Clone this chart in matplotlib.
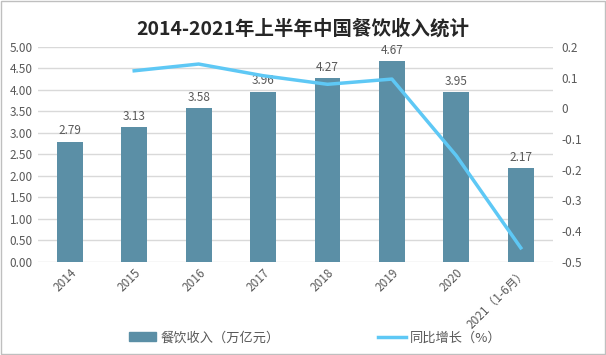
import numpy as np
import matplotlib
matplotlib.use("Agg")
import matplotlib.pyplot as plt
from matplotlib.patches import Patch
from matplotlib.lines import Line2D

plt.rcParams['font.family'] = ['Noto Sans CJK SC', 'DejaVu Sans']

years = ["2014", "2015", "2016", "2017", "2018", "2019", "2020", "2021（1-6月）"]
revenue = [2.79, 3.13, 3.58, 3.96, 4.27, 4.67, 3.95, 2.17]
growth = [np.nan, 0.122, 0.144, 0.106, 0.078, 0.095, -0.155, -0.455]
left_ticks = [0, 0.5, 1, 1.5, 2, 2.5, 3, 3.5, 4, 4.5, 5]
right_ticks = [-0.5, -0.4, -0.3, -0.2, -0.1, 0, 0.1, 0.2]
right_labels = ["-0.5", "-0.4", "-0.3", "-0.2", "-0.1", "0", "0.1", "0.2"]

bar_c = "#5b8fa6"
line_c = "#5ec8f5"
txt_c = "#595959"

fig = plt.figure(figsize=(6.06, 3.55), dpi=100)
ax = fig.add_axes([0.062, 0.263, 0.8505, 0.605])
x = np.arange(len(years))
ax.bar(x, revenue, width=0.4, color=bar_c, zorder=2)
for xi, v in zip(x, revenue):
    ax.text(xi, v + 0.1, f"{v:.2f}", ha="center", va="bottom", fontsize=8.5, color=txt_c)

ax.set_xlim(-0.5, len(years) - 0.5)
ax.set_ylim(0, 5)
ax.set_yticks(left_ticks)
ax.set_yticklabels([f"{t:.2f}" for t in left_ticks])
ax.grid(axis="y", color="#d9d9d9", linewidth=1, zorder=0)
ax.set_axisbelow(True)
for s in ax.spines.values():
    s.set_visible(False)
ax.tick_params(axis="both", length=0, labelsize=8.5, colors=txt_c)
ax.set_xticks(x)
ax.set_xticklabels(years, rotation=45, ha="right", rotation_mode="anchor")

ax2 = ax.twinx()
ax2.plot(x, growth, color=line_c, linewidth=2.5, zorder=3)
ax2.set_ylim(-0.5, 0.2)
ax2.set_yticks(right_ticks)
ax2.set_yticklabels(right_labels)
for s in ax2.spines.values():
    s.set_visible(False)
ax2.tick_params(axis="y", length=0, labelsize=8.5, colors=txt_c, pad=6)

fig.text(0.5, 0.918, "2014-2021年上半年中国餐饮收入统计", ha="center", va="center",
         fontsize=14, fontweight="bold", color="#262626")

handles = [Patch(color=bar_c), Line2D([0], [0], color=line_c, linewidth=2.5)]
fig.legend(handles, ["餐饮收入（万亿元）", "同比增长（%）"], loc="center",
           bbox_to_anchor=(0.52, 0.048), ncol=2, frameon=False, fontsize=9.5,
           labelcolor=txt_c, handlelength=2.1, handleheight=0.7, handletextpad=0.3,
           columnspacing=7.5)

fig.patches.append(plt.Rectangle((0.001, 0.002), 0.997, 0.995, transform=fig.transFigure,
                                 fill=False, edgecolor="#bfbfbf", linewidth=1))
fig.savefig("out.png", dpi=100)
